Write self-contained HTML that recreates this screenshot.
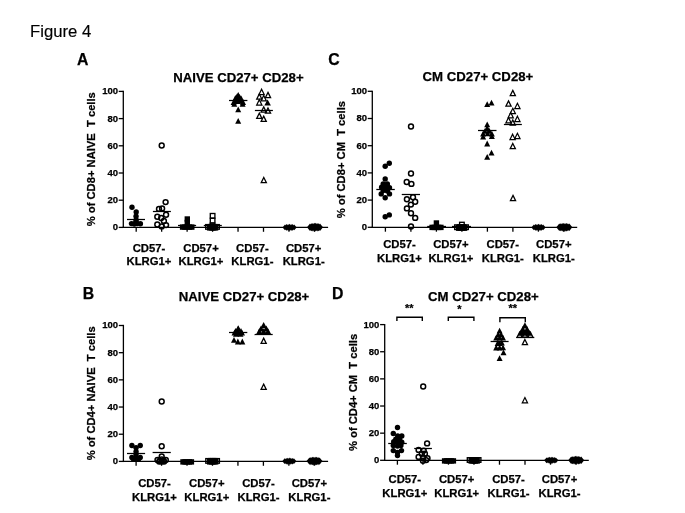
<!DOCTYPE html>
<html><head><meta charset="utf-8"><title>Figure 4</title>
<style>html,body{margin:0;padding:0;background:#fff}svg{display:block;will-change:transform}</style></head>
<body>
<svg width="685" height="513" viewBox="0 0 685 513" font-family='&quot;Liberation Sans&quot;, Arial, Helvetica, sans-serif' fill="#000">
<rect width="685" height="513" fill="#fff"/>
<text x="30.10" y="37.20" font-size="16.7" font-weight="normal" text-anchor="start" stroke="#000" stroke-width="0.15" >Figure 4</text>
<line x1="123.3" y1="90.75" x2="123.3" y2="228.05" stroke="#000" stroke-width="1.3"/>
<line x1="122.64999999999999" y1="227.4" x2="328.1" y2="227.4" stroke="#000" stroke-width="1.3"/>
<line x1="118.70" y1="227.40" x2="123.3" y2="227.40" stroke="#000" stroke-width="1.3"/>
<text x="118.00" y="230.30" font-size="9.5" font-weight="bold" text-anchor="end" stroke="#000" stroke-width="0.25" >0</text>
<line x1="118.70" y1="200.20" x2="123.3" y2="200.20" stroke="#000" stroke-width="1.3"/>
<text x="118.00" y="203.10" font-size="9.5" font-weight="bold" text-anchor="end" stroke="#000" stroke-width="0.25" >20</text>
<line x1="118.70" y1="173.00" x2="123.3" y2="173.00" stroke="#000" stroke-width="1.3"/>
<text x="118.00" y="175.90" font-size="9.5" font-weight="bold" text-anchor="end" stroke="#000" stroke-width="0.25" >40</text>
<line x1="118.70" y1="145.80" x2="123.3" y2="145.80" stroke="#000" stroke-width="1.3"/>
<text x="118.00" y="148.70" font-size="9.5" font-weight="bold" text-anchor="end" stroke="#000" stroke-width="0.25" >60</text>
<line x1="118.70" y1="118.60" x2="123.3" y2="118.60" stroke="#000" stroke-width="1.3"/>
<text x="118.00" y="121.50" font-size="9.5" font-weight="bold" text-anchor="end" stroke="#000" stroke-width="0.25" >80</text>
<line x1="118.70" y1="91.40" x2="123.3" y2="91.40" stroke="#000" stroke-width="1.3"/>
<text x="118.00" y="94.30" font-size="9.5" font-weight="bold" text-anchor="end" stroke="#000" stroke-width="0.25" >100</text>
<line x1="136.20" y1="227.4" x2="136.20" y2="231.80" stroke="#000" stroke-width="1.3"/>
<line x1="161.66" y1="227.4" x2="161.66" y2="231.80" stroke="#000" stroke-width="1.3"/>
<line x1="187.12" y1="227.4" x2="187.12" y2="231.80" stroke="#000" stroke-width="1.3"/>
<line x1="212.58" y1="227.4" x2="212.58" y2="231.80" stroke="#000" stroke-width="1.3"/>
<line x1="238.04" y1="227.4" x2="238.04" y2="231.80" stroke="#000" stroke-width="1.3"/>
<line x1="263.50" y1="227.4" x2="263.50" y2="231.80" stroke="#000" stroke-width="1.3"/>
<line x1="288.96" y1="227.4" x2="288.96" y2="231.80" stroke="#000" stroke-width="1.3"/>
<line x1="314.42" y1="227.4" x2="314.42" y2="231.80" stroke="#000" stroke-width="1.3"/>
<text x="77.00" y="65.30" font-size="15.8" font-weight="bold" text-anchor="start" stroke="#000" stroke-width="0.25" >A</text>
<text x="173.20" y="81.50" font-size="13.2" font-weight="bold" text-anchor="start" stroke="#000" stroke-width="0.25" >NAIVE CD27+ CD28+</text>
<text transform="translate(94.70,159.20) rotate(-90)" font-size="11.2" font-weight="bold" text-anchor="middle" stroke="#000" stroke-width="0.25" xml:space="preserve">% of CD8+ NAIVE  T cells</text>
<text x="149.00" y="251.60" font-size="11.3" font-weight="bold" text-anchor="middle" stroke="#000" stroke-width="0.25" >CD57-</text>
<text x="149.00" y="265.00" font-size="11.3" font-weight="bold" text-anchor="middle" stroke="#000" stroke-width="0.25" >KLRG1+</text>
<text x="201.00" y="251.60" font-size="11.3" font-weight="bold" text-anchor="middle" stroke="#000" stroke-width="0.25" >CD57+</text>
<text x="201.00" y="265.00" font-size="11.3" font-weight="bold" text-anchor="middle" stroke="#000" stroke-width="0.25" >KLRG1+</text>
<text x="252.40" y="251.60" font-size="11.3" font-weight="bold" text-anchor="middle" stroke="#000" stroke-width="0.25" >CD57-</text>
<text x="252.40" y="265.00" font-size="11.3" font-weight="bold" text-anchor="middle" stroke="#000" stroke-width="0.25" >KLRG1-</text>
<text x="303.70" y="251.60" font-size="11.3" font-weight="bold" text-anchor="middle" stroke="#000" stroke-width="0.25" >CD57+</text>
<text x="303.70" y="265.00" font-size="11.3" font-weight="bold" text-anchor="middle" stroke="#000" stroke-width="0.25" >KLRG1-</text>
<circle cx="132.00" cy="207.30" r="2.7" fill="#000"/>
<circle cx="136.20" cy="211.90" r="2.7" fill="#000"/>
<circle cx="136.05" cy="216.30" r="2.7" fill="#000"/>
<circle cx="136.10" cy="220.00" r="2.7" fill="#000"/>
<circle cx="131.50" cy="223.60" r="2.7" fill="#000"/>
<circle cx="134.30" cy="224.00" r="2.7" fill="#000"/>
<circle cx="137.20" cy="223.60" r="2.7" fill="#000"/>
<circle cx="140.40" cy="223.80" r="2.7" fill="#000"/>
<circle cx="136.00" cy="222.00" r="2.7" fill="#000"/>
<line x1="127.00" y1="219.50" x2="145.00" y2="219.50" stroke="#000" stroke-width="1.25"/>
<circle cx="157.30" cy="224.50" r="2.45" fill="none" stroke="#000" stroke-width="1.5"/>
<circle cx="161.70" cy="226.40" r="2.45" fill="none" stroke="#000" stroke-width="1.5"/>
<circle cx="166.05" cy="225.10" r="2.45" fill="none" stroke="#000" stroke-width="1.5"/>
<circle cx="163.90" cy="220.90" r="2.45" fill="none" stroke="#000" stroke-width="1.5"/>
<circle cx="161.20" cy="218.00" r="2.45" fill="none" stroke="#000" stroke-width="1.5"/>
<circle cx="157.30" cy="216.75" r="2.45" fill="none" stroke="#000" stroke-width="1.5"/>
<circle cx="166.05" cy="214.80" r="2.45" fill="none" stroke="#000" stroke-width="1.5"/>
<circle cx="159.00" cy="208.90" r="2.45" fill="none" stroke="#000" stroke-width="1.5"/>
<circle cx="162.10" cy="208.40" r="2.45" fill="none" stroke="#000" stroke-width="1.5"/>
<circle cx="165.60" cy="202.10" r="2.45" fill="none" stroke="#000" stroke-width="1.5"/>
<circle cx="161.70" cy="145.50" r="2.45" fill="none" stroke="#000" stroke-width="1.5"/>
<line x1="152.90" y1="211.50" x2="170.90" y2="211.50" stroke="#000" stroke-width="1.25"/>
<rect x="184.60" y="216.30" width="5.4" height="5.4" fill="#000"/>
<rect x="184.60" y="219.80" width="5.4" height="5.4" fill="#000"/>
<rect x="179.90" y="224.40" width="5.4" height="5.4" fill="#000"/>
<rect x="182.20" y="224.40" width="5.4" height="5.4" fill="#000"/>
<rect x="184.50" y="224.40" width="5.4" height="5.4" fill="#000"/>
<rect x="186.80" y="224.40" width="5.4" height="5.4" fill="#000"/>
<rect x="189.10" y="224.40" width="5.4" height="5.4" fill="#000"/>
<line x1="178.00" y1="225.50" x2="196.10" y2="225.50" stroke="#000" stroke-width="1.25"/>
<rect x="210.30" y="213.50" width="4.6" height="4.6" fill="none" stroke="#000" stroke-width="1.35"/>
<rect x="210.30" y="218.30" width="4.6" height="4.6" fill="none" stroke="#000" stroke-width="1.35"/>
<rect x="205.70" y="224.60" width="4.6" height="4.6" fill="none" stroke="#000" stroke-width="1.35"/>
<rect x="207.60" y="225.30" width="4.6" height="4.6" fill="none" stroke="#000" stroke-width="1.35"/>
<rect x="208.50" y="224.60" width="4.6" height="4.6" fill="none" stroke="#000" stroke-width="1.35"/>
<rect x="209.40" y="225.30" width="4.6" height="4.6" fill="none" stroke="#000" stroke-width="1.35"/>
<rect x="210.30" y="224.60" width="4.6" height="4.6" fill="none" stroke="#000" stroke-width="1.35"/>
<rect x="211.20" y="225.30" width="4.6" height="4.6" fill="none" stroke="#000" stroke-width="1.35"/>
<rect x="212.10" y="224.60" width="4.6" height="4.6" fill="none" stroke="#000" stroke-width="1.35"/>
<rect x="213.00" y="225.30" width="4.6" height="4.6" fill="none" stroke="#000" stroke-width="1.35"/>
<rect x="214.70" y="224.60" width="4.6" height="4.6" fill="none" stroke="#000" stroke-width="1.35"/>
<rect x="207.90" y="224.50" width="9.2" height="5.2" fill="#000"/>
<rect x="210.20" y="223.20" width="4.6" height="4.6" fill="none" stroke="#000" stroke-width="1.35"/>
<line x1="203.80" y1="225.50" x2="221.80" y2="225.50" stroke="#000" stroke-width="1.25"/>
<polygon points="238.20,118.00 241.20,123.80 235.20,123.80" fill="#000"/>
<polygon points="238.20,106.40 241.20,112.20 235.20,112.20" fill="#000"/>
<polygon points="238.20,92.00 241.20,97.80 235.20,97.80" fill="#000"/>
<polygon points="235.40,95.10 238.40,100.90 232.40,100.90" fill="#000"/>
<polygon points="241.20,95.50 244.20,101.30 238.20,101.30" fill="#000"/>
<polygon points="233.60,99.10 236.60,104.90 230.60,104.90" fill="#000"/>
<polygon points="238.00,98.10 241.00,103.90 235.00,103.90" fill="#000"/>
<polygon points="243.00,99.10 246.00,104.90 240.00,104.90" fill="#000"/>
<polygon points="234.30,100.90 237.30,106.70 231.30,106.70" fill="#000"/>
<polygon points="242.60,100.90 245.60,106.70 239.60,106.70" fill="#000"/>
<polygon points="238.20,95.60 241.20,101.40 235.20,101.40" fill="#000"/>
<polygon points="236.20,97.40 239.20,103.20 233.20,103.20" fill="#000"/>
<polygon points="240.30,97.60 243.30,103.40 237.30,103.40" fill="#000"/>
<polygon points="237.00,93.60 240.00,99.40 234.00,99.40" fill="#000"/>
<polygon points="239.60,93.90 242.60,99.70 236.60,99.70" fill="#000"/>
<line x1="229.00" y1="100.50" x2="247.40" y2="100.50" stroke="#000" stroke-width="1.25"/>
<polygon points="261.60,89.25 264.20,94.50 259.00,94.50" fill="none" stroke="#000" stroke-width="1.25" stroke-linejoin="miter"/>
<polygon points="268.00,92.35 270.60,97.60 265.40,97.60" fill="none" stroke="#000" stroke-width="1.25" stroke-linejoin="miter"/>
<polygon points="259.30,93.95 261.90,99.20 256.70,99.20" fill="none" stroke="#000" stroke-width="1.25" stroke-linejoin="miter"/>
<polygon points="263.70,95.55 266.30,100.80 261.10,100.80" fill="none" stroke="#000" stroke-width="1.25" stroke-linejoin="miter"/>
<polygon points="259.30,99.75 261.90,105.00 256.70,105.00" fill="none" stroke="#000" stroke-width="1.25" stroke-linejoin="miter"/>
<polygon points="263.70,106.85 266.30,112.10 261.10,112.10" fill="none" stroke="#000" stroke-width="1.25" stroke-linejoin="miter"/>
<polygon points="268.00,107.95 270.60,113.20 265.40,113.20" fill="none" stroke="#000" stroke-width="1.25" stroke-linejoin="miter"/>
<polygon points="259.30,113.15 261.90,118.40 256.70,118.40" fill="none" stroke="#000" stroke-width="1.25" stroke-linejoin="miter"/>
<polygon points="263.70,116.15 266.30,121.40 261.10,121.40" fill="none" stroke="#000" stroke-width="1.25" stroke-linejoin="miter"/>
<polygon points="263.80,177.45 266.40,182.70 261.20,182.70" fill="none" stroke="#000" stroke-width="1.25" stroke-linejoin="miter"/>
<polygon points="267.60,99.40 270.90,105.40 264.30,105.40" fill="#000"/>
<line x1="254.90" y1="110.50" x2="272.90" y2="110.50" stroke="#000" stroke-width="1.25"/>
<polygon points="285.00,224.50 287.50,227.40 285.00,230.30 282.50,227.40" fill="#000"/>
<polygon points="286.53,224.11 289.03,227.40 286.53,230.69 284.03,227.40" fill="#000"/>
<polygon points="288.07,223.88 290.57,227.40 288.07,230.92 285.57,227.40" fill="#000"/>
<polygon points="289.60,223.80 292.10,227.40 289.60,231.00 287.10,227.40" fill="#000"/>
<polygon points="291.13,223.88 293.63,227.40 291.13,230.92 288.63,227.40" fill="#000"/>
<polygon points="292.67,224.11 295.17,227.40 292.67,230.69 290.17,227.40" fill="#000"/>
<polygon points="294.20,224.50 296.70,227.40 294.20,230.30 291.70,227.40" fill="#000"/>
<polygon points="310.00,223.50 313.00,227.20 310.00,230.90 307.00,227.20" fill="#000"/>
<polygon points="311.43,223.16 314.43,227.20 311.43,231.24 308.43,227.20" fill="#000"/>
<polygon points="312.86,222.93 315.86,227.20 312.86,231.47 309.86,227.20" fill="#000"/>
<polygon points="314.29,222.81 317.29,227.20 314.29,231.59 311.29,227.20" fill="#000"/>
<polygon points="315.71,222.81 318.71,227.20 315.71,231.59 312.71,227.20" fill="#000"/>
<polygon points="317.14,222.93 320.14,227.20 317.14,231.47 314.14,227.20" fill="#000"/>
<polygon points="318.57,223.16 321.57,227.20 318.57,231.24 315.57,227.20" fill="#000"/>
<polygon points="320.00,223.50 323.00,227.20 320.00,230.90 317.00,227.20" fill="#000"/>
<line x1="123.4" y1="324.85" x2="123.4" y2="462.05" stroke="#000" stroke-width="1.3"/>
<line x1="122.75" y1="461.4" x2="328.1" y2="461.4" stroke="#000" stroke-width="1.3"/>
<line x1="118.80" y1="461.40" x2="123.4" y2="461.40" stroke="#000" stroke-width="1.3"/>
<text x="118.10" y="464.30" font-size="9.5" font-weight="bold" text-anchor="end" stroke="#000" stroke-width="0.25" >0</text>
<line x1="118.80" y1="434.22" x2="123.4" y2="434.22" stroke="#000" stroke-width="1.3"/>
<text x="118.10" y="437.12" font-size="9.5" font-weight="bold" text-anchor="end" stroke="#000" stroke-width="0.25" >20</text>
<line x1="118.80" y1="407.04" x2="123.4" y2="407.04" stroke="#000" stroke-width="1.3"/>
<text x="118.10" y="409.94" font-size="9.5" font-weight="bold" text-anchor="end" stroke="#000" stroke-width="0.25" >40</text>
<line x1="118.80" y1="379.86" x2="123.4" y2="379.86" stroke="#000" stroke-width="1.3"/>
<text x="118.10" y="382.76" font-size="9.5" font-weight="bold" text-anchor="end" stroke="#000" stroke-width="0.25" >60</text>
<line x1="118.80" y1="352.68" x2="123.4" y2="352.68" stroke="#000" stroke-width="1.3"/>
<text x="118.10" y="355.58" font-size="9.5" font-weight="bold" text-anchor="end" stroke="#000" stroke-width="0.25" >80</text>
<line x1="118.80" y1="325.50" x2="123.4" y2="325.50" stroke="#000" stroke-width="1.3"/>
<text x="118.10" y="328.40" font-size="9.5" font-weight="bold" text-anchor="end" stroke="#000" stroke-width="0.25" >100</text>
<line x1="136.10" y1="461.4" x2="136.10" y2="465.80" stroke="#000" stroke-width="1.3"/>
<line x1="161.56" y1="461.4" x2="161.56" y2="465.80" stroke="#000" stroke-width="1.3"/>
<line x1="187.02" y1="461.4" x2="187.02" y2="465.80" stroke="#000" stroke-width="1.3"/>
<line x1="212.48" y1="461.4" x2="212.48" y2="465.80" stroke="#000" stroke-width="1.3"/>
<line x1="237.94" y1="461.4" x2="237.94" y2="465.80" stroke="#000" stroke-width="1.3"/>
<line x1="263.40" y1="461.4" x2="263.40" y2="465.80" stroke="#000" stroke-width="1.3"/>
<line x1="288.86" y1="461.4" x2="288.86" y2="465.80" stroke="#000" stroke-width="1.3"/>
<line x1="314.32" y1="461.4" x2="314.32" y2="465.80" stroke="#000" stroke-width="1.3"/>
<text x="82.80" y="298.80" font-size="15.8" font-weight="bold" text-anchor="start" stroke="#000" stroke-width="0.25" >B</text>
<text x="178.80" y="301.00" font-size="13.2" font-weight="bold" text-anchor="start" stroke="#000" stroke-width="0.25" >NAIVE CD27+ CD28+</text>
<text transform="translate(94.70,393.30) rotate(-90)" font-size="11.2" font-weight="bold" text-anchor="middle" stroke="#000" stroke-width="0.25" xml:space="preserve">% of CD4+ NAIVE  T cells</text>
<text x="154.50" y="487.10" font-size="11.3" font-weight="bold" text-anchor="middle" stroke="#000" stroke-width="0.25" >CD57-</text>
<text x="154.50" y="500.60" font-size="11.3" font-weight="bold" text-anchor="middle" stroke="#000" stroke-width="0.25" >KLRG1+</text>
<text x="206.80" y="487.10" font-size="11.3" font-weight="bold" text-anchor="middle" stroke="#000" stroke-width="0.25" >CD57+</text>
<text x="206.80" y="500.60" font-size="11.3" font-weight="bold" text-anchor="middle" stroke="#000" stroke-width="0.25" >KLRG1+</text>
<text x="258.50" y="487.10" font-size="11.3" font-weight="bold" text-anchor="middle" stroke="#000" stroke-width="0.25" >CD57-</text>
<text x="258.50" y="500.60" font-size="11.3" font-weight="bold" text-anchor="middle" stroke="#000" stroke-width="0.25" >KLRG1-</text>
<text x="309.40" y="487.10" font-size="11.3" font-weight="bold" text-anchor="middle" stroke="#000" stroke-width="0.25" >CD57+</text>
<text x="309.40" y="500.60" font-size="11.3" font-weight="bold" text-anchor="middle" stroke="#000" stroke-width="0.25" >KLRG1-</text>
<circle cx="131.90" cy="445.50" r="2.7" fill="#000"/>
<circle cx="140.25" cy="445.50" r="2.7" fill="#000"/>
<circle cx="136.07" cy="447.75" r="2.7" fill="#000"/>
<circle cx="136.07" cy="451.60" r="2.7" fill="#000"/>
<circle cx="136.07" cy="454.60" r="2.7" fill="#000"/>
<circle cx="131.90" cy="457.50" r="2.7" fill="#000"/>
<circle cx="136.07" cy="458.00" r="2.7" fill="#000"/>
<circle cx="140.25" cy="457.50" r="2.7" fill="#000"/>
<circle cx="133.60" cy="459.20" r="2.7" fill="#000"/>
<circle cx="138.50" cy="459.20" r="2.7" fill="#000"/>
<line x1="127.00" y1="453.50" x2="145.10" y2="453.50" stroke="#000" stroke-width="1.25"/>
<circle cx="157.50" cy="459.90" r="2.45" fill="none" stroke="#000" stroke-width="1.5"/>
<circle cx="165.80" cy="459.90" r="2.45" fill="none" stroke="#000" stroke-width="1.5"/>
<circle cx="159.20" cy="461.60" r="2.45" fill="none" stroke="#000" stroke-width="1.5"/>
<circle cx="164.10" cy="461.60" r="2.45" fill="none" stroke="#000" stroke-width="1.5"/>
<circle cx="161.70" cy="459.40" r="2.45" fill="none" stroke="#000" stroke-width="1.5"/>
<circle cx="159.80" cy="460.60" r="2.45" fill="none" stroke="#000" stroke-width="1.5"/>
<circle cx="163.60" cy="460.60" r="2.45" fill="none" stroke="#000" stroke-width="1.5"/>
<circle cx="161.70" cy="461.60" r="2.45" fill="none" stroke="#000" stroke-width="1.5"/>
<circle cx="161.70" cy="456.50" r="2.45" fill="none" stroke="#000" stroke-width="1.5"/>
<circle cx="161.70" cy="446.30" r="2.45" fill="none" stroke="#000" stroke-width="1.5"/>
<circle cx="161.70" cy="401.50" r="2.45" fill="none" stroke="#000" stroke-width="1.5"/>
<line x1="152.60" y1="452.50" x2="170.80" y2="452.50" stroke="#000" stroke-width="1.25"/>
<rect x="180.30" y="459.20" width="5.4" height="5.4" fill="#000"/>
<rect x="182.40" y="459.20" width="5.4" height="5.4" fill="#000"/>
<rect x="184.50" y="459.20" width="5.4" height="5.4" fill="#000"/>
<rect x="186.60" y="459.20" width="5.4" height="5.4" fill="#000"/>
<rect x="188.70" y="459.20" width="5.4" height="5.4" fill="#000"/>
<rect x="205.80" y="458.60" width="4.6" height="4.6" fill="none" stroke="#000" stroke-width="1.35"/>
<rect x="207.70" y="459.30" width="4.6" height="4.6" fill="none" stroke="#000" stroke-width="1.35"/>
<rect x="208.60" y="458.60" width="4.6" height="4.6" fill="none" stroke="#000" stroke-width="1.35"/>
<rect x="209.50" y="459.30" width="4.6" height="4.6" fill="none" stroke="#000" stroke-width="1.35"/>
<rect x="210.40" y="458.60" width="4.6" height="4.6" fill="none" stroke="#000" stroke-width="1.35"/>
<rect x="211.30" y="459.30" width="4.6" height="4.6" fill="none" stroke="#000" stroke-width="1.35"/>
<rect x="212.20" y="458.60" width="4.6" height="4.6" fill="none" stroke="#000" stroke-width="1.35"/>
<rect x="213.10" y="459.30" width="4.6" height="4.6" fill="none" stroke="#000" stroke-width="1.35"/>
<rect x="214.80" y="458.60" width="4.6" height="4.6" fill="none" stroke="#000" stroke-width="1.35"/>
<rect x="208.00" y="458.50" width="9.2" height="5.2" fill="#000"/>
<polygon points="238.20,325.70 241.20,331.50 235.20,331.50" fill="#000"/>
<polygon points="235.50,328.10 238.50,333.90 232.50,333.90" fill="#000"/>
<polygon points="241.00,328.10 244.00,333.90 238.00,333.90" fill="#000"/>
<polygon points="238.20,328.60 241.20,334.40 235.20,334.40" fill="#000"/>
<polygon points="234.50,329.70 237.50,335.50 231.50,335.50" fill="#000"/>
<polygon points="242.00,329.70 245.00,335.50 239.00,335.50" fill="#000"/>
<polygon points="238.20,329.90 241.20,335.70 235.20,335.70" fill="#000"/>
<polygon points="234.00,337.00 237.00,342.80 231.00,342.80" fill="#000"/>
<polygon points="237.90,338.60 240.90,344.40 234.90,344.40" fill="#000"/>
<polygon points="242.30,338.60 245.30,344.40 239.30,344.40" fill="#000"/>
<polygon points="236.00,330.90 239.00,336.70 233.00,336.70" fill="#000"/>
<polygon points="240.50,330.90 243.50,336.70 237.50,336.70" fill="#000"/>
<polygon points="238.20,325.30 241.20,331.10 235.20,331.10" fill="#000"/>
<line x1="229.00" y1="332.50" x2="247.30" y2="332.50" stroke="#000" stroke-width="1.25"/>
<polygon points="263.65,322.00 266.95,328.20 260.35,328.20" fill="#000"/>
<polygon points="261.00,325.40 264.30,331.60 257.70,331.60" fill="#000"/>
<polygon points="266.30,325.40 269.60,331.60 263.00,331.60" fill="#000"/>
<polygon points="259.30,328.30 262.60,334.50 256.00,334.50" fill="#000"/>
<polygon points="263.65,328.30 266.95,334.50 260.35,334.50" fill="#000"/>
<polygon points="268.00,328.30 271.30,334.50 264.70,334.50" fill="#000"/>
<polygon points="263.65,338.15 266.25,343.40 261.05,343.40" fill="none" stroke="#000" stroke-width="1.25" stroke-linejoin="miter"/>
<polygon points="263.65,384.15 266.25,389.40 261.05,389.40" fill="none" stroke="#000" stroke-width="1.25" stroke-linejoin="miter"/>
<line x1="254.60" y1="334.50" x2="272.70" y2="334.50" stroke="#000" stroke-width="1.25"/>
<polygon points="284.70,458.30 287.20,461.20 284.70,464.10 282.20,461.20" fill="#000"/>
<polygon points="286.23,457.91 288.73,461.20 286.23,464.49 283.73,461.20" fill="#000"/>
<polygon points="287.77,457.68 290.27,461.20 287.77,464.72 285.27,461.20" fill="#000"/>
<polygon points="289.30,457.60 291.80,461.20 289.30,464.80 286.80,461.20" fill="#000"/>
<polygon points="290.83,457.68 293.33,461.20 290.83,464.72 288.33,461.20" fill="#000"/>
<polygon points="292.37,457.91 294.87,461.20 292.37,464.49 289.87,461.20" fill="#000"/>
<polygon points="293.90,458.30 296.40,461.20 293.90,464.10 291.40,461.20" fill="#000"/>
<polygon points="309.50,457.40 312.50,461.10 309.50,464.80 306.50,461.10" fill="#000"/>
<polygon points="310.93,457.06 313.93,461.10 310.93,465.14 307.93,461.10" fill="#000"/>
<polygon points="312.36,456.83 315.36,461.10 312.36,465.37 309.36,461.10" fill="#000"/>
<polygon points="313.79,456.71 316.79,461.10 313.79,465.49 310.79,461.10" fill="#000"/>
<polygon points="315.21,456.71 318.21,461.10 315.21,465.49 312.21,461.10" fill="#000"/>
<polygon points="316.64,456.83 319.64,461.10 316.64,465.37 313.64,461.10" fill="#000"/>
<polygon points="318.07,457.06 321.07,461.10 318.07,465.14 315.07,461.10" fill="#000"/>
<polygon points="319.50,457.40 322.50,461.10 319.50,464.80 316.50,461.10" fill="#000"/>
<line x1="372.3" y1="90.65" x2="372.3" y2="227.95" stroke="#000" stroke-width="1.3"/>
<line x1="371.65000000000003" y1="227.3" x2="577.2" y2="227.3" stroke="#000" stroke-width="1.3"/>
<line x1="367.70" y1="227.30" x2="372.3" y2="227.30" stroke="#000" stroke-width="1.3"/>
<text x="367.00" y="230.20" font-size="9.5" font-weight="bold" text-anchor="end" stroke="#000" stroke-width="0.25" >0</text>
<line x1="367.70" y1="200.10" x2="372.3" y2="200.10" stroke="#000" stroke-width="1.3"/>
<text x="367.00" y="203.00" font-size="9.5" font-weight="bold" text-anchor="end" stroke="#000" stroke-width="0.25" >20</text>
<line x1="367.70" y1="172.90" x2="372.3" y2="172.90" stroke="#000" stroke-width="1.3"/>
<text x="367.00" y="175.80" font-size="9.5" font-weight="bold" text-anchor="end" stroke="#000" stroke-width="0.25" >40</text>
<line x1="367.70" y1="145.70" x2="372.3" y2="145.70" stroke="#000" stroke-width="1.3"/>
<text x="367.00" y="148.60" font-size="9.5" font-weight="bold" text-anchor="end" stroke="#000" stroke-width="0.25" >60</text>
<line x1="367.70" y1="118.50" x2="372.3" y2="118.50" stroke="#000" stroke-width="1.3"/>
<text x="367.00" y="121.40" font-size="9.5" font-weight="bold" text-anchor="end" stroke="#000" stroke-width="0.25" >80</text>
<line x1="367.70" y1="91.30" x2="372.3" y2="91.30" stroke="#000" stroke-width="1.3"/>
<text x="367.00" y="94.20" font-size="9.5" font-weight="bold" text-anchor="end" stroke="#000" stroke-width="0.25" >100</text>
<line x1="385.40" y1="227.3" x2="385.40" y2="231.70" stroke="#000" stroke-width="1.3"/>
<line x1="410.90" y1="227.3" x2="410.90" y2="231.70" stroke="#000" stroke-width="1.3"/>
<line x1="436.40" y1="227.3" x2="436.40" y2="231.70" stroke="#000" stroke-width="1.3"/>
<line x1="461.90" y1="227.3" x2="461.90" y2="231.70" stroke="#000" stroke-width="1.3"/>
<line x1="487.40" y1="227.3" x2="487.40" y2="231.70" stroke="#000" stroke-width="1.3"/>
<line x1="512.90" y1="227.3" x2="512.90" y2="231.70" stroke="#000" stroke-width="1.3"/>
<line x1="538.40" y1="227.3" x2="538.40" y2="231.70" stroke="#000" stroke-width="1.3"/>
<line x1="563.90" y1="227.3" x2="563.90" y2="231.70" stroke="#000" stroke-width="1.3"/>
<text x="328.20" y="65.40" font-size="15.8" font-weight="bold" text-anchor="start" stroke="#000" stroke-width="0.25" >C</text>
<text x="422.60" y="81.20" font-size="13.2" font-weight="bold" text-anchor="start" stroke="#000" stroke-width="0.25" >CM CD27+ CD28+</text>
<text transform="translate(344.70,159.60) rotate(-90)" font-size="11.2" font-weight="bold" text-anchor="middle" stroke="#000" stroke-width="0.25" xml:space="preserve">% of CD8+ CM  T cells</text>
<text x="399.50" y="248.00" font-size="11.3" font-weight="bold" text-anchor="middle" stroke="#000" stroke-width="0.25" >CD57-</text>
<text x="399.50" y="261.50" font-size="11.3" font-weight="bold" text-anchor="middle" stroke="#000" stroke-width="0.25" >KLRG1+</text>
<text x="450.90" y="248.00" font-size="11.3" font-weight="bold" text-anchor="middle" stroke="#000" stroke-width="0.25" >CD57+</text>
<text x="450.90" y="261.50" font-size="11.3" font-weight="bold" text-anchor="middle" stroke="#000" stroke-width="0.25" >KLRG1+</text>
<text x="502.80" y="248.00" font-size="11.3" font-weight="bold" text-anchor="middle" stroke="#000" stroke-width="0.25" >CD57-</text>
<text x="502.80" y="261.50" font-size="11.3" font-weight="bold" text-anchor="middle" stroke="#000" stroke-width="0.25" >KLRG1-</text>
<text x="553.80" y="248.00" font-size="11.3" font-weight="bold" text-anchor="middle" stroke="#000" stroke-width="0.25" >CD57+</text>
<text x="553.80" y="261.50" font-size="11.3" font-weight="bold" text-anchor="middle" stroke="#000" stroke-width="0.25" >KLRG1-</text>
<circle cx="389.30" cy="163.20" r="2.7" fill="#000"/>
<circle cx="385.20" cy="166.20" r="2.7" fill="#000"/>
<circle cx="385.20" cy="179.00" r="2.7" fill="#000"/>
<circle cx="383.20" cy="183.90" r="2.7" fill="#000"/>
<circle cx="387.35" cy="183.90" r="2.7" fill="#000"/>
<circle cx="381.60" cy="187.25" r="2.7" fill="#000"/>
<circle cx="385.70" cy="186.75" r="2.7" fill="#000"/>
<circle cx="389.50" cy="187.75" r="2.7" fill="#000"/>
<circle cx="383.20" cy="190.60" r="2.7" fill="#000"/>
<circle cx="387.35" cy="191.05" r="2.7" fill="#000"/>
<circle cx="381.20" cy="193.90" r="2.7" fill="#000"/>
<circle cx="389.50" cy="193.90" r="2.7" fill="#000"/>
<circle cx="385.20" cy="197.70" r="2.7" fill="#000"/>
<circle cx="389.30" cy="214.90" r="2.7" fill="#000"/>
<circle cx="385.20" cy="216.70" r="2.7" fill="#000"/>
<line x1="376.30" y1="189.50" x2="394.80" y2="189.50" stroke="#000" stroke-width="1.25"/>
<circle cx="411.00" cy="126.50" r="2.45" fill="none" stroke="#000" stroke-width="1.5"/>
<circle cx="411.00" cy="173.50" r="2.45" fill="none" stroke="#000" stroke-width="1.5"/>
<circle cx="406.70" cy="181.95" r="2.45" fill="none" stroke="#000" stroke-width="1.5"/>
<circle cx="411.40" cy="183.90" r="2.45" fill="none" stroke="#000" stroke-width="1.5"/>
<circle cx="413.00" cy="197.20" r="2.45" fill="none" stroke="#000" stroke-width="1.5"/>
<circle cx="406.90" cy="199.30" r="2.45" fill="none" stroke="#000" stroke-width="1.5"/>
<circle cx="415.20" cy="201.70" r="2.45" fill="none" stroke="#000" stroke-width="1.5"/>
<circle cx="410.90" cy="204.60" r="2.45" fill="none" stroke="#000" stroke-width="1.5"/>
<circle cx="406.90" cy="208.40" r="2.45" fill="none" stroke="#000" stroke-width="1.5"/>
<circle cx="411.00" cy="213.20" r="2.45" fill="none" stroke="#000" stroke-width="1.5"/>
<circle cx="415.20" cy="217.90" r="2.45" fill="none" stroke="#000" stroke-width="1.5"/>
<circle cx="411.00" cy="226.50" r="2.45" fill="none" stroke="#000" stroke-width="1.5"/>
<line x1="401.75" y1="194.50" x2="420.00" y2="194.50" stroke="#000" stroke-width="1.25"/>
<rect x="433.70" y="220.30" width="5.4" height="5.4" fill="#000"/>
<rect x="429.40" y="224.70" width="5.4" height="5.4" fill="#000"/>
<rect x="431.60" y="224.70" width="5.4" height="5.4" fill="#000"/>
<rect x="433.80" y="224.70" width="5.4" height="5.4" fill="#000"/>
<rect x="436.00" y="224.70" width="5.4" height="5.4" fill="#000"/>
<rect x="438.20" y="224.70" width="5.4" height="5.4" fill="#000"/>
<line x1="427.20" y1="226.50" x2="446.00" y2="226.50" stroke="#000" stroke-width="1.25"/>
<rect x="459.60" y="222.30" width="4.6" height="4.6" fill="none" stroke="#000" stroke-width="1.35"/>
<rect x="454.70" y="224.90" width="4.6" height="4.6" fill="none" stroke="#000" stroke-width="1.35"/>
<rect x="456.60" y="225.60" width="4.6" height="4.6" fill="none" stroke="#000" stroke-width="1.35"/>
<rect x="457.50" y="224.90" width="4.6" height="4.6" fill="none" stroke="#000" stroke-width="1.35"/>
<rect x="458.40" y="225.60" width="4.6" height="4.6" fill="none" stroke="#000" stroke-width="1.35"/>
<rect x="459.30" y="224.90" width="4.6" height="4.6" fill="none" stroke="#000" stroke-width="1.35"/>
<rect x="460.20" y="225.60" width="4.6" height="4.6" fill="none" stroke="#000" stroke-width="1.35"/>
<rect x="461.10" y="224.90" width="4.6" height="4.6" fill="none" stroke="#000" stroke-width="1.35"/>
<rect x="462.00" y="225.60" width="4.6" height="4.6" fill="none" stroke="#000" stroke-width="1.35"/>
<rect x="463.70" y="224.90" width="4.6" height="4.6" fill="none" stroke="#000" stroke-width="1.35"/>
<rect x="456.90" y="224.80" width="9.2" height="5.2" fill="#000"/>
<line x1="452.00" y1="226.50" x2="471.00" y2="226.50" stroke="#000" stroke-width="1.25"/>
<polygon points="491.50,99.70 494.50,105.50 488.50,105.50" fill="#000"/>
<polygon points="487.20,101.20 490.20,107.00 484.20,107.00" fill="#000"/>
<polygon points="487.20,121.50 490.20,127.30 484.20,127.30" fill="#000"/>
<polygon points="487.20,124.90 490.20,130.70 484.20,130.70" fill="#000"/>
<polygon points="485.00,128.00 488.00,133.80 482.00,133.80" fill="#000"/>
<polygon points="489.40,128.00 492.40,133.80 486.40,133.80" fill="#000"/>
<polygon points="483.10,130.80 486.10,136.60 480.10,136.60" fill="#000"/>
<polygon points="487.60,130.40 490.60,136.20 484.60,136.20" fill="#000"/>
<polygon points="491.85,130.80 494.85,136.60 488.85,136.60" fill="#000"/>
<polygon points="483.10,133.60 486.10,139.40 480.10,139.40" fill="#000"/>
<polygon points="491.85,133.20 494.85,139.00 488.85,139.00" fill="#000"/>
<polygon points="487.20,140.60 490.20,146.40 484.20,146.40" fill="#000"/>
<polygon points="491.50,149.70 494.50,155.50 488.50,155.50" fill="#000"/>
<polygon points="487.20,153.95 490.20,159.75 484.20,159.75" fill="#000"/>
<line x1="478.00" y1="130.50" x2="496.50" y2="130.50" stroke="#000" stroke-width="1.25"/>
<polygon points="512.80,90.35 515.40,95.60 510.20,95.60" fill="none" stroke="#000" stroke-width="1.25" stroke-linejoin="miter"/>
<polygon points="508.50,100.90 511.10,106.15 505.90,106.15" fill="none" stroke="#000" stroke-width="1.25" stroke-linejoin="miter"/>
<polygon points="517.40,103.30 520.00,108.55 514.80,108.55" fill="none" stroke="#000" stroke-width="1.25" stroke-linejoin="miter"/>
<polygon points="512.80,108.30 515.40,113.55 510.20,113.55" fill="none" stroke="#000" stroke-width="1.25" stroke-linejoin="miter"/>
<polygon points="510.70,112.55 513.30,117.80 508.10,117.80" fill="none" stroke="#000" stroke-width="1.25" stroke-linejoin="miter"/>
<polygon points="517.40,116.25 520.00,121.50 514.80,121.50" fill="none" stroke="#000" stroke-width="1.25" stroke-linejoin="miter"/>
<polygon points="508.50,117.55 511.10,122.80 505.90,122.80" fill="none" stroke="#000" stroke-width="1.25" stroke-linejoin="miter"/>
<polygon points="512.80,119.95 515.40,125.20 510.20,125.20" fill="none" stroke="#000" stroke-width="1.25" stroke-linejoin="miter"/>
<polygon points="517.40,133.30 520.00,138.55 514.80,138.55" fill="none" stroke="#000" stroke-width="1.25" stroke-linejoin="miter"/>
<polygon points="512.60,134.25 515.20,139.50 510.00,139.50" fill="none" stroke="#000" stroke-width="1.25" stroke-linejoin="miter"/>
<polygon points="512.80,143.45 515.40,148.70 510.20,148.70" fill="none" stroke="#000" stroke-width="1.25" stroke-linejoin="miter"/>
<polygon points="513.00,195.35 515.60,200.60 510.40,200.60" fill="none" stroke="#000" stroke-width="1.25" stroke-linejoin="miter"/>
<line x1="503.90" y1="124.50" x2="521.85" y2="124.50" stroke="#000" stroke-width="1.25"/>
<polygon points="533.90,224.50 536.40,227.40 533.90,230.30 531.40,227.40" fill="#000"/>
<polygon points="535.43,224.11 537.93,227.40 535.43,230.69 532.93,227.40" fill="#000"/>
<polygon points="536.97,223.88 539.47,227.40 536.97,230.92 534.47,227.40" fill="#000"/>
<polygon points="538.50,223.80 541.00,227.40 538.50,231.00 536.00,227.40" fill="#000"/>
<polygon points="540.03,223.88 542.53,227.40 540.03,230.92 537.53,227.40" fill="#000"/>
<polygon points="541.57,224.11 544.07,227.40 541.57,230.69 539.07,227.40" fill="#000"/>
<polygon points="543.10,224.50 545.60,227.40 543.10,230.30 540.60,227.40" fill="#000"/>
<polygon points="559.30,223.60 562.30,227.30 559.30,231.00 556.30,227.30" fill="#000"/>
<polygon points="560.73,223.26 563.73,227.30 560.73,231.34 557.73,227.30" fill="#000"/>
<polygon points="562.16,223.03 565.16,227.30 562.16,231.57 559.16,227.30" fill="#000"/>
<polygon points="563.59,222.91 566.59,227.30 563.59,231.69 560.59,227.30" fill="#000"/>
<polygon points="565.01,222.91 568.01,227.30 565.01,231.69 562.01,227.30" fill="#000"/>
<polygon points="566.44,223.03 569.44,227.30 566.44,231.57 563.44,227.30" fill="#000"/>
<polygon points="567.87,223.26 570.87,227.30 567.87,231.34 564.87,227.30" fill="#000"/>
<polygon points="569.30,223.60 572.30,227.30 569.30,231.00 566.30,227.30" fill="#000"/>
<line x1="384.7" y1="323.95" x2="384.7" y2="460.95" stroke="#000" stroke-width="1.3"/>
<line x1="384.05" y1="460.3" x2="588.8" y2="460.3" stroke="#000" stroke-width="1.3"/>
<line x1="380.10" y1="460.30" x2="384.7" y2="460.30" stroke="#000" stroke-width="1.3"/>
<text x="379.40" y="463.20" font-size="9.5" font-weight="bold" text-anchor="end" stroke="#000" stroke-width="0.25" >0</text>
<line x1="380.10" y1="433.16" x2="384.7" y2="433.16" stroke="#000" stroke-width="1.3"/>
<text x="379.40" y="436.06" font-size="9.5" font-weight="bold" text-anchor="end" stroke="#000" stroke-width="0.25" >20</text>
<line x1="380.10" y1="406.02" x2="384.7" y2="406.02" stroke="#000" stroke-width="1.3"/>
<text x="379.40" y="408.92" font-size="9.5" font-weight="bold" text-anchor="end" stroke="#000" stroke-width="0.25" >40</text>
<line x1="380.10" y1="378.88" x2="384.7" y2="378.88" stroke="#000" stroke-width="1.3"/>
<text x="379.40" y="381.78" font-size="9.5" font-weight="bold" text-anchor="end" stroke="#000" stroke-width="0.25" >60</text>
<line x1="380.10" y1="351.74" x2="384.7" y2="351.74" stroke="#000" stroke-width="1.3"/>
<text x="379.40" y="354.64" font-size="9.5" font-weight="bold" text-anchor="end" stroke="#000" stroke-width="0.25" >80</text>
<line x1="380.10" y1="324.60" x2="384.7" y2="324.60" stroke="#000" stroke-width="1.3"/>
<text x="379.40" y="327.50" font-size="9.5" font-weight="bold" text-anchor="end" stroke="#000" stroke-width="0.25" >100</text>
<line x1="397.40" y1="460.3" x2="397.40" y2="464.70" stroke="#000" stroke-width="1.3"/>
<line x1="422.92" y1="460.3" x2="422.92" y2="464.70" stroke="#000" stroke-width="1.3"/>
<line x1="448.44" y1="460.3" x2="448.44" y2="464.70" stroke="#000" stroke-width="1.3"/>
<line x1="473.96" y1="460.3" x2="473.96" y2="464.70" stroke="#000" stroke-width="1.3"/>
<line x1="499.48" y1="460.3" x2="499.48" y2="464.70" stroke="#000" stroke-width="1.3"/>
<line x1="525.00" y1="460.3" x2="525.00" y2="464.70" stroke="#000" stroke-width="1.3"/>
<line x1="550.52" y1="460.3" x2="550.52" y2="464.70" stroke="#000" stroke-width="1.3"/>
<line x1="576.04" y1="460.3" x2="576.04" y2="464.70" stroke="#000" stroke-width="1.3"/>
<text x="332.00" y="299.30" font-size="15.8" font-weight="bold" text-anchor="start" stroke="#000" stroke-width="0.25" >D</text>
<text x="428.00" y="301.20" font-size="13.2" font-weight="bold" text-anchor="start" stroke="#000" stroke-width="0.25" >CM CD27+ CD28+</text>
<text transform="translate(357.40,392.40) rotate(-90)" font-size="11.2" font-weight="bold" text-anchor="middle" stroke="#000" stroke-width="0.25" xml:space="preserve">% of CD4+ CM  T cells</text>
<text x="404.80" y="483.20" font-size="11.3" font-weight="bold" text-anchor="middle" stroke="#000" stroke-width="0.25" >CD57-</text>
<text x="404.80" y="496.70" font-size="11.3" font-weight="bold" text-anchor="middle" stroke="#000" stroke-width="0.25" >KLRG1+</text>
<text x="456.70" y="483.20" font-size="11.3" font-weight="bold" text-anchor="middle" stroke="#000" stroke-width="0.25" >CD57+</text>
<text x="456.70" y="496.70" font-size="11.3" font-weight="bold" text-anchor="middle" stroke="#000" stroke-width="0.25" >KLRG1+</text>
<text x="508.50" y="483.20" font-size="11.3" font-weight="bold" text-anchor="middle" stroke="#000" stroke-width="0.25" >CD57-</text>
<text x="508.50" y="496.70" font-size="11.3" font-weight="bold" text-anchor="middle" stroke="#000" stroke-width="0.25" >KLRG1-</text>
<text x="559.50" y="483.20" font-size="11.3" font-weight="bold" text-anchor="middle" stroke="#000" stroke-width="0.25" >CD57+</text>
<text x="559.50" y="496.70" font-size="11.3" font-weight="bold" text-anchor="middle" stroke="#000" stroke-width="0.25" >KLRG1-</text>
<circle cx="397.50" cy="427.50" r="2.7" fill="#000"/>
<circle cx="393.30" cy="433.50" r="2.7" fill="#000"/>
<circle cx="397.70" cy="436.00" r="2.7" fill="#000"/>
<circle cx="401.80" cy="436.00" r="2.7" fill="#000"/>
<circle cx="395.80" cy="439.20" r="2.7" fill="#000"/>
<circle cx="399.60" cy="439.20" r="2.7" fill="#000"/>
<circle cx="393.70" cy="441.70" r="2.7" fill="#000"/>
<circle cx="397.70" cy="442.30" r="2.7" fill="#000"/>
<circle cx="401.80" cy="442.30" r="2.7" fill="#000"/>
<circle cx="393.30" cy="445.50" r="2.7" fill="#000"/>
<circle cx="397.50" cy="446.10" r="2.7" fill="#000"/>
<circle cx="400.90" cy="445.50" r="2.7" fill="#000"/>
<circle cx="393.30" cy="450.60" r="2.7" fill="#000"/>
<circle cx="401.50" cy="450.60" r="2.7" fill="#000"/>
<circle cx="397.50" cy="452.50" r="2.7" fill="#000"/>
<circle cx="397.50" cy="455.60" r="2.7" fill="#000"/>
<line x1="388.20" y1="443.50" x2="406.80" y2="443.50" stroke="#000" stroke-width="1.25"/>
<circle cx="423.20" cy="386.50" r="2.45" fill="none" stroke="#000" stroke-width="1.5"/>
<circle cx="427.10" cy="443.40" r="2.45" fill="none" stroke="#000" stroke-width="1.5"/>
<circle cx="418.60" cy="449.90" r="2.45" fill="none" stroke="#000" stroke-width="1.5"/>
<circle cx="423.70" cy="450.60" r="2.45" fill="none" stroke="#000" stroke-width="1.5"/>
<circle cx="421.80" cy="453.70" r="2.45" fill="none" stroke="#000" stroke-width="1.5"/>
<circle cx="424.90" cy="453.70" r="2.45" fill="none" stroke="#000" stroke-width="1.5"/>
<circle cx="418.60" cy="456.90" r="2.45" fill="none" stroke="#000" stroke-width="1.5"/>
<circle cx="423.00" cy="457.50" r="2.45" fill="none" stroke="#000" stroke-width="1.5"/>
<circle cx="427.50" cy="458.20" r="2.45" fill="none" stroke="#000" stroke-width="1.5"/>
<circle cx="423.00" cy="460.70" r="2.45" fill="none" stroke="#000" stroke-width="1.5"/>
<circle cx="426.20" cy="460.10" r="2.45" fill="none" stroke="#000" stroke-width="1.5"/>
<line x1="414.20" y1="448.50" x2="431.90" y2="448.50" stroke="#000" stroke-width="1.25"/>
<rect x="441.90" y="458.20" width="5.4" height="5.4" fill="#000"/>
<rect x="444.10" y="458.20" width="5.4" height="5.4" fill="#000"/>
<rect x="446.30" y="458.20" width="5.4" height="5.4" fill="#000"/>
<rect x="448.50" y="458.20" width="5.4" height="5.4" fill="#000"/>
<rect x="450.70" y="458.20" width="5.4" height="5.4" fill="#000"/>
<rect x="467.30" y="457.70" width="4.6" height="4.6" fill="none" stroke="#000" stroke-width="1.35"/>
<rect x="469.20" y="458.40" width="4.6" height="4.6" fill="none" stroke="#000" stroke-width="1.35"/>
<rect x="470.10" y="457.70" width="4.6" height="4.6" fill="none" stroke="#000" stroke-width="1.35"/>
<rect x="471.00" y="458.40" width="4.6" height="4.6" fill="none" stroke="#000" stroke-width="1.35"/>
<rect x="471.90" y="457.70" width="4.6" height="4.6" fill="none" stroke="#000" stroke-width="1.35"/>
<rect x="472.80" y="458.40" width="4.6" height="4.6" fill="none" stroke="#000" stroke-width="1.35"/>
<rect x="473.70" y="457.70" width="4.6" height="4.6" fill="none" stroke="#000" stroke-width="1.35"/>
<rect x="474.60" y="458.40" width="4.6" height="4.6" fill="none" stroke="#000" stroke-width="1.35"/>
<rect x="476.30" y="457.70" width="4.6" height="4.6" fill="none" stroke="#000" stroke-width="1.35"/>
<rect x="469.50" y="457.60" width="9.2" height="5.2" fill="#000"/>
<polygon points="499.60,327.70 502.60,333.50 496.60,333.50" fill="#000"/>
<polygon points="498.20,331.40 501.20,337.20 495.20,337.20" fill="#000"/>
<polygon points="501.10,331.40 504.10,337.20 498.10,337.20" fill="#000"/>
<polygon points="496.20,334.70 499.20,340.50 493.20,340.50" fill="#000"/>
<polygon points="499.60,334.70 502.60,340.50 496.60,340.50" fill="#000"/>
<polygon points="503.00,334.70 506.00,340.50 500.00,340.50" fill="#000"/>
<polygon points="497.70,340.10 500.70,345.90 494.70,345.90" fill="#000"/>
<polygon points="499.60,340.30 502.60,346.10 496.60,346.10" fill="#000"/>
<polygon points="501.80,339.70 504.80,345.50 498.80,345.50" fill="#000"/>
<polygon points="496.20,344.60 499.20,350.40 493.20,350.40" fill="#000"/>
<polygon points="499.60,344.60 502.60,350.40 496.60,350.40" fill="#000"/>
<polygon points="503.00,344.40 506.00,350.20 500.00,350.20" fill="#000"/>
<polygon points="503.50,349.40 506.50,355.20 500.50,355.20" fill="#000"/>
<polygon points="499.60,355.30 502.60,361.10 496.60,361.10" fill="#000"/>
<line x1="490.60" y1="341.50" x2="508.60" y2="341.50" stroke="#000" stroke-width="1.25"/>
<polygon points="524.90,322.30 528.20,328.50 521.60,328.50" fill="#000"/>
<polygon points="522.80,326.10 526.10,332.30 519.50,332.30" fill="#000"/>
<polygon points="527.10,326.10 530.40,332.30 523.80,332.30" fill="#000"/>
<polygon points="520.90,329.50 524.20,335.70 517.60,335.70" fill="#000"/>
<polygon points="524.90,329.50 528.20,335.70 521.60,335.70" fill="#000"/>
<polygon points="528.90,329.50 532.20,335.70 525.60,335.70" fill="#000"/>
<polygon points="519.60,332.15 522.20,337.40 517.00,337.40" fill="none" stroke="#000" stroke-width="1.25" stroke-linejoin="miter"/>
<polygon points="525.00,331.95 527.60,337.20 522.40,337.20" fill="none" stroke="#000" stroke-width="1.25" stroke-linejoin="miter"/>
<polygon points="530.40,332.15 533.00,337.40 527.80,337.40" fill="none" stroke="#000" stroke-width="1.25" stroke-linejoin="miter"/>
<rect x="521" y="331" width="8" height="3.4" fill="#000"/>
<polygon points="524.90,339.45 527.50,344.70 522.30,344.70" fill="none" stroke="#000" stroke-width="1.25" stroke-linejoin="miter"/>
<polygon points="524.90,397.55 527.50,402.80 522.30,402.80" fill="none" stroke="#000" stroke-width="1.25" stroke-linejoin="miter"/>
<line x1="516.30" y1="337.50" x2="534.30" y2="337.50" stroke="#000" stroke-width="1.25"/>
<polygon points="546.60,457.40 549.10,460.30 546.60,463.20 544.10,460.30" fill="#000"/>
<polygon points="548.13,457.01 550.63,460.30 548.13,463.59 545.63,460.30" fill="#000"/>
<polygon points="549.67,456.78 552.17,460.30 549.67,463.82 547.17,460.30" fill="#000"/>
<polygon points="551.20,456.70 553.70,460.30 551.20,463.90 548.70,460.30" fill="#000"/>
<polygon points="552.73,456.78 555.23,460.30 552.73,463.82 550.23,460.30" fill="#000"/>
<polygon points="554.27,457.01 556.77,460.30 554.27,463.59 551.77,460.30" fill="#000"/>
<polygon points="555.80,457.40 558.30,460.30 555.80,463.20 553.30,460.30" fill="#000"/>
<polygon points="571.20,456.50 574.20,460.20 571.20,463.90 568.20,460.20" fill="#000"/>
<polygon points="572.63,456.16 575.63,460.20 572.63,464.24 569.63,460.20" fill="#000"/>
<polygon points="574.06,455.93 577.06,460.20 574.06,464.47 571.06,460.20" fill="#000"/>
<polygon points="575.49,455.81 578.49,460.20 575.49,464.59 572.49,460.20" fill="#000"/>
<polygon points="576.91,455.81 579.91,460.20 576.91,464.59 573.91,460.20" fill="#000"/>
<polygon points="578.34,455.93 581.34,460.20 578.34,464.47 575.34,460.20" fill="#000"/>
<polygon points="579.77,456.16 582.77,460.20 579.77,464.24 576.77,460.20" fill="#000"/>
<polygon points="581.20,456.50 584.20,460.20 581.20,463.90 578.20,460.20" fill="#000"/>
<polyline points="396.9,321.0 396.9,317.3 422.3,317.3 422.3,321.0" fill="none" stroke="#000" stroke-width="1.4"/>
<text x="409.30" y="312.00" font-size="11" font-weight="bold" text-anchor="middle" stroke="#000" stroke-width="0.25" >**</text>
<polyline points="448.3,321.0 448.3,317.3 473.9,317.3 473.9,321.0" fill="none" stroke="#000" stroke-width="1.4"/>
<text x="459.30" y="313.40" font-size="11" font-weight="bold" text-anchor="middle" stroke="#000" stroke-width="0.25" >*</text>
<polyline points="499.9,322.2 499.9,317.8 525.3,317.8 525.3,322.2" fill="none" stroke="#000" stroke-width="1.4"/>
<text x="512.80" y="312.00" font-size="11" font-weight="bold" text-anchor="middle" stroke="#000" stroke-width="0.25" >**</text>
</svg>
</body></html>
